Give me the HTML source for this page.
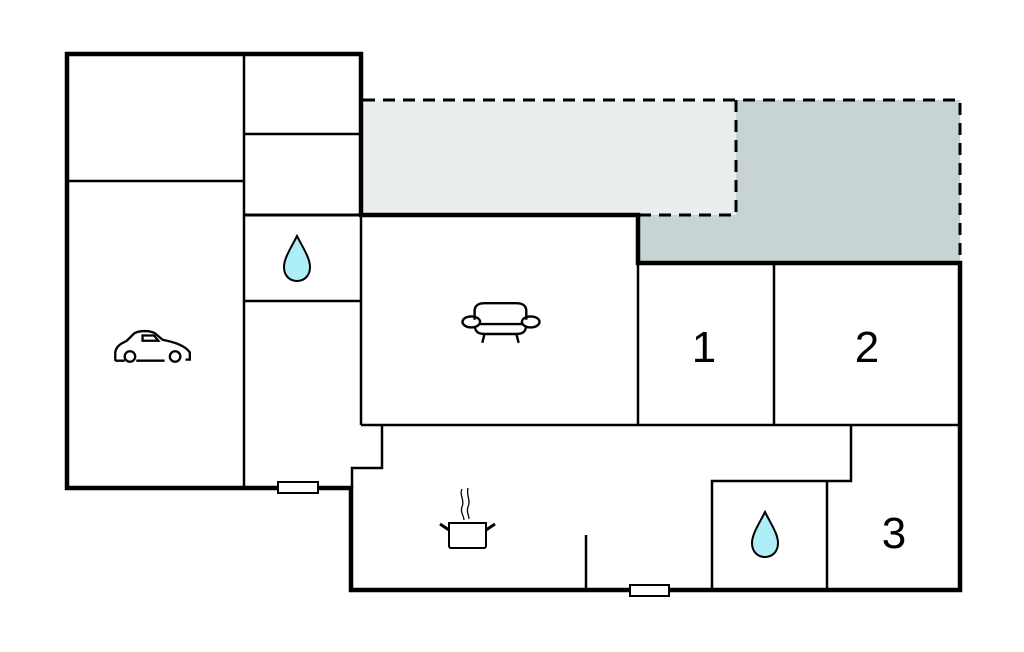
<!DOCTYPE html>
<html><head><meta charset="utf-8"><style>
html,body{margin:0;padding:0;background:#fff;width:1024px;height:652px;overflow:hidden}
</style></head><body>
<svg width="1024" height="652" viewBox="0 0 1024 652" xmlns="http://www.w3.org/2000/svg">
<rect x="361" y="100" width="375" height="115" fill="#eaeeef"/>
<path d="M736 100 H960 V263 H638 V215 H736 Z" fill="#c8d3d4"/>
<g stroke="#000" stroke-width="3" fill="none" stroke-dasharray="12 8">
<path d="M363 100 H960 V263"/>
<path d="M736 100 V215 H640"/>
</g>
<g stroke="#000" stroke-width="2.5" fill="none">
<line x1="244" y1="53" x2="244" y2="488"/>
<line x1="66" y1="181" x2="244" y2="181"/>
<line x1="244" y1="134" x2="361" y2="134"/>
<line x1="244" y1="301" x2="361" y2="301"/>
<line x1="361" y1="215" x2="361" y2="425"/>
<line x1="638" y1="263" x2="638" y2="425"/>
<path d="M361 425 H960"/>
<path d="M382 425 V468 H352 V488"/>
<line x1="774" y1="263" x2="774" y2="425"/>
<path d="M851 425 V481 H712 V590"/>
<line x1="827" y1="481" x2="827" y2="590"/>
<line x1="586" y1="535" x2="586" y2="590"/>
</g>
<line x1="244" y1="215" x2="361" y2="215" stroke="#000" stroke-width="3"/>
<g stroke="#000" stroke-width="4.5" fill="none">
<path d="M361 215 V54 H67 V488 H352"/>
<path d="M359 215 H638 V263 H960 V590 H351 V486"/>
</g>
<rect x="278" y="482" width="40" height="11" fill="#fff" stroke="#000" stroke-width="2"/>
<rect x="630" y="585" width="39" height="11" fill="#fff" stroke="#000" stroke-width="2"/>
<path d="M297 236 C291 248 284 258 284 267 C284 276 290 281 297 281 C304 281 310 276 310 267 C310 258 303 248 297 236 Z" fill="#aeeef6" stroke="#000" stroke-width="2"/>
<path d="M765 512 C759 524 752 534 752 543 C752 552 758 557 765 557 C772 557 778 552 778 543 C778 534 771 524 765 512 Z" fill="#aeeef6" stroke="#000" stroke-width="2"/>
<g stroke="#000" stroke-width="2.2" fill="none" transform="translate(152 346) scale(1.05) translate(-152 -346)">
<path d="M117 360 V352 C118 346 122 344 128 341 L135 334 C140 331 150 331 155 334 L162 340 C172 342 183 345 188 352 V359 H184 M164 360 H137 M126 360 H117"/>
<circle cx="131" cy="356" r="5"/>
<circle cx="174" cy="356" r="5"/>
<path d="M143 336 H154 L158 341 H143 Z"/>
</g>
<g stroke="#000" stroke-width="2.2" fill="none" transform="translate(501 323) scale(1.1) translate(-501 -323)">
<path d="M477 320 V312 C477 307 481 305 486 305 H515 C520 305 524 307 524 312 V320"/>
<ellipse cx="474" cy="322" rx="8" ry="5"/>
<ellipse cx="528" cy="322" rx="8" ry="5"/>
<path d="M482 324 H520 M477 326 C478 331 480 333 486 333 H515 C521 333 523 331 524 326"/>
<path d="M486 333 L484 341 M515 333 L517 341"/>
</g>
<g stroke="#000" stroke-width="2" fill="none">
<path d="M449 523 H486 V546 C486 547 485 548 484 548 H451 C450 548 449 547 449 546 Z"/>
<path d="M449 530 L440 524 M486 530 L495 524" stroke-width="3"/>
<path d="M462 489 C459 495 465 500 462 507 C460 512 464 516 464 520 M468 488 C466 495 471 500 468 507 C466 512 469 515 469 519" stroke-width="1.3"/>
</g>
<g font-family="Liberation Sans, sans-serif" font-size="44" fill="#000" text-anchor="middle">
<text x="704" y="362">1</text>
<text x="867" y="362">2</text>
<text x="894" y="548">3</text>
</g>
</svg>
</body></html>
